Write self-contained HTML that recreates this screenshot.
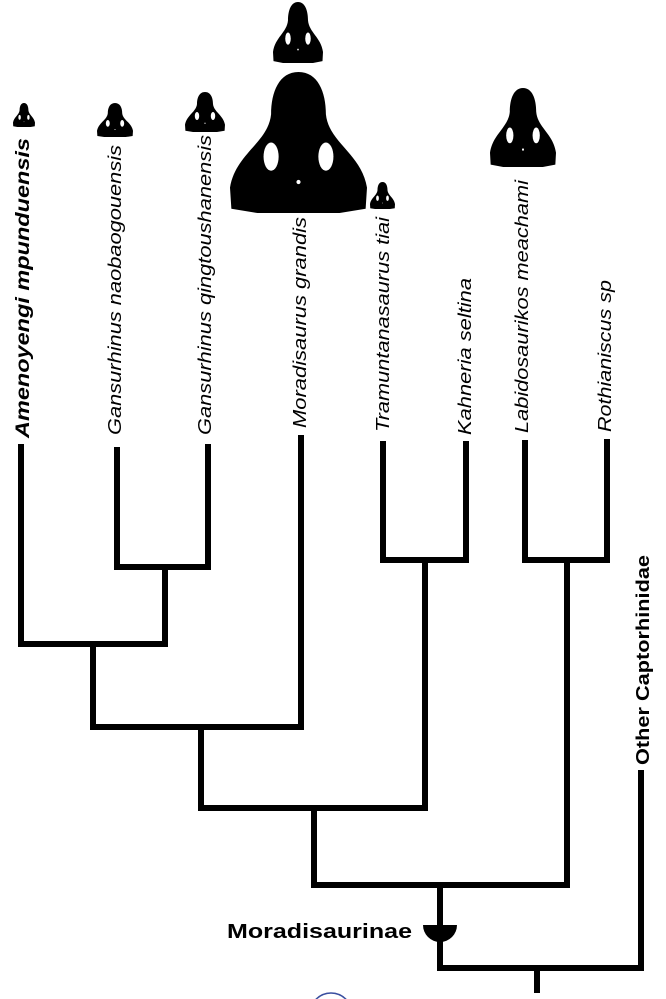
<!DOCTYPE html>
<html><head><meta charset="utf-8"><style>
html,body{margin:0;padding:0;background:#fff;}
svg{display:block;}
text{font-family:"Liberation Sans",Arial,sans-serif;fill:#000;}
</style></head><body>
<svg width="666" height="999" viewBox="0 0 666 999" xmlns="http://www.w3.org/2000/svg">
<defs>
<g id="sk">
<path d="M0.5,0 C0.64,0 0.7,0.14 0.7,0.3 C0.72,0.5 0.96,0.58 1,0.82 L0.99,0.97 L0.8,1 L0.2,1 L0.01,0.97 L0,0.82 C0.04,0.58 0.28,0.5 0.3,0.3 C0.3,0.14 0.36,0 0.5,0 Z" fill="#000"/>
<ellipse cx="0.3" cy="0.6" rx="0.055" ry="0.1" fill="#fff"/>
<ellipse cx="0.7" cy="0.6" rx="0.055" ry="0.1" fill="#fff"/>
<circle cx="0.5" cy="0.78" r="0.015" fill="#fff"/>
</g>
</defs>
<g transform="translate(13,103) scale(22,24)"><use href="#sk"/></g>
<g transform="translate(97,103) scale(36,34)"><use href="#sk"/></g>
<g transform="translate(185,92) scale(40,40)"><use href="#sk"/></g>
<g transform="translate(273,2) scale(50,61)"><use href="#sk"/></g>
<g transform="translate(230,72) scale(137,141)"><use href="#sk"/></g>
<g transform="translate(370,182) scale(25,27)"><use href="#sk"/></g>
<g transform="translate(490,88) scale(66,79)"><use href="#sk"/></g>

<text transform="translate(29,438) rotate(-90)" font-size="19" font-weight="bold" font-style="italic" textLength="300" lengthAdjust="spacingAndGlyphs">Amenoyengi mpunduensis</text>
<text transform="translate(121,435) rotate(-90)" font-size="18" font-style="italic" textLength="290" lengthAdjust="spacingAndGlyphs">Gansurhinus naobaogouensis</text>
<text transform="translate(211,435) rotate(-90)" font-size="18" font-style="italic" textLength="300" lengthAdjust="spacingAndGlyphs">Gansurhinus qingtoushanensis</text>
<text transform="translate(306,428) rotate(-90)" font-size="18" font-style="italic" textLength="211" lengthAdjust="spacingAndGlyphs">Moradisaurus grandis</text>
<text transform="translate(389,432) rotate(-90)" font-size="18" font-style="italic" textLength="215" lengthAdjust="spacingAndGlyphs">Tramuntanasaurus tiai</text>
<text transform="translate(471,435) rotate(-90)" font-size="18" font-style="italic" textLength="157" lengthAdjust="spacingAndGlyphs">Kahneria seltina</text>
<text transform="translate(528,433) rotate(-90)" font-size="18" font-style="italic" textLength="253" lengthAdjust="spacingAndGlyphs">Labidosaurikos meachami</text>
<text transform="translate(611,432) rotate(-90)" font-size="18" font-style="italic" textLength="152" lengthAdjust="spacingAndGlyphs">Rothianiscus sp</text>
<text transform="translate(649,765) rotate(-90)" font-size="18" font-weight="bold" textLength="210" lengthAdjust="spacingAndGlyphs">Other Captorhinidae</text>
<text x="227" y="938" font-size="20" font-weight="bold" textLength="185" lengthAdjust="spacingAndGlyphs">Moradisaurinae</text>

<g fill="none" stroke="#000" stroke-width="6" stroke-linecap="square">
<path d="M117,450 V567 H208 V447"/>
<path d="M21,447 V644 H165 V567"/>
<path d="M93,644 V727 H301 V438"/>
<path d="M383,444 V560 H466 V444"/>
<path d="M201,727 V808 H425 V560"/>
<path d="M525,443 V560 H607 V442"/>
<path d="M314,808 V885 H567 V560"/>
<path d="M440,885 V968 H641 V773"/>
<path d="M537,968 V990"/>
</g>
<path d="M423,925 H457 A17,17 0 0 1 423,925 Z" fill="#000"/>
<circle cx="331" cy="1014" r="21" fill="none" stroke="#3a4fa0" stroke-width="1.5"/>
</svg>
</body></html>
